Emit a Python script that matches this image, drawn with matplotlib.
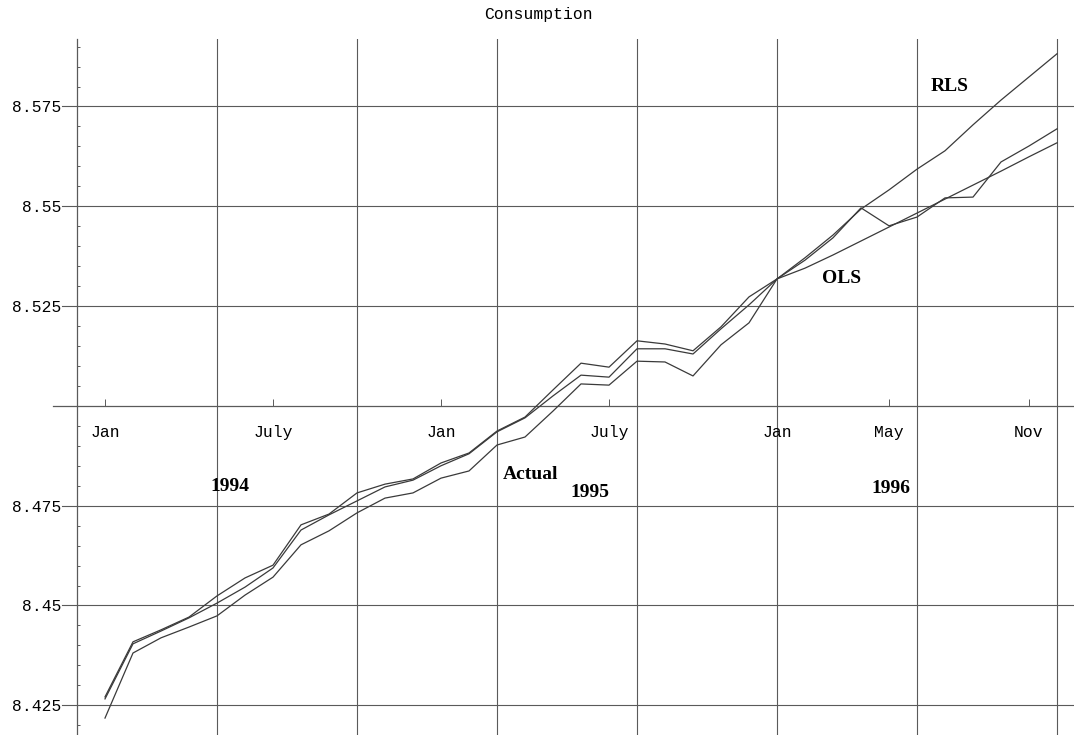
import numpy as np
import matplotlib
matplotlib.use("Agg")
import matplotlib.pyplot as plt
from matplotlib.ticker import FixedLocator, MultipleLocator

# Monthly observations, Jan 1994 (index 0) .. Nov 1996 (index 34)
months = np.arange(35)

actual = [8.4218, 8.4381, 8.4419, 8.4446, 8.4474, 8.4526, 8.4571, 8.4652, 8.4687,
          8.4732, 8.4769, 8.4782, 8.4819, 8.4837, 8.4902, 8.4922, 8.4987, 8.5055,
          8.5052, 8.5112, 8.5110, 8.5075, 8.5153, 8.5208, 8.5318,
          8.5365, 8.5421, 8.5496, 8.5451, 8.5473, 8.5521, 8.5523, 8.5611, 8.5651, 8.5694]

ols = [8.4266, 8.4404, 8.4436, 8.4469, 8.4506, 8.4546, 8.4594, 8.4689, 8.4727,
       8.4762, 8.4797, 8.4814, 8.4850, 8.4880, 8.4935, 8.4970, 8.5025, 8.5077,
       8.5072, 8.5143, 8.5143, 8.5130, 8.5193, 8.5253, 8.5318,
       8.5345, 8.5378, 8.5413, 8.5448, 8.5483, 8.5518, 8.5553, 8.5588, 8.5624, 8.5659]

rls = [8.4271, 8.4409, 8.4439, 8.4471, 8.4524, 8.4569, 8.4601, 8.4702, 8.4729,
       8.4782, 8.4804, 8.4817, 8.4857, 8.4882, 8.4937, 8.4972, 8.5040, 8.5107,
       8.5097, 8.5163, 8.5155, 8.5138, 8.5198, 8.5273, 8.5318,
       8.5371, 8.5428, 8.5493, 8.5541, 8.5593, 8.5639, 8.5704, 8.5766, 8.5824, 8.5882]

month_ticks = [0, 6, 12, 18, 24, 28, 33]
month_labels = ["Jan", "July", "Jan", "July", "Jan", "May", "Nov"]
grid_months = [4, 9, 14, 19, 24, 29, 34]

y_ticks = [8.425, 8.45, 8.475, 8.525, 8.55, 8.575]
y_labels = ["8.425", "8.45", "8.475", "8.525", "8.55", "8.575"]

MONO = "Liberation Mono"
SERIF = "Liberation Serif"
LINE = "#3a3a3a"
GRID = "#5a5a5a"

W, H = 1074, 735
fig = plt.figure(figsize=(W / 100, H / 100), dpi=100)
ax = fig.add_axes([77 / W, 0.0, 997 / W, (H - 39) / H])

ax.set_xlim(-1.0, 34.607)
ax.set_ylim(8.41756, 8.5919)

# frame: only the vertical axis line on the left
for side in ("top", "right"):
    ax.spines[side].set_visible(False)
ax.spines["left"].set_color(GRID)
ax.spines["left"].set_linewidth(0.9)
ax.spines["bottom"].set_position(("data", 8.5))
ax.spines["bottom"].set_visible(False)

# horizontal axis line at 8.5, running a little past the y axis
ax.axhline(8.5, xmin=-0.024, xmax=1.0, color=GRID, lw=0.9, clip_on=False, zorder=1)

# horizontal grid lines, starting just right of the tick labels
for v in y_ticks:
    ax.axhline(v, xmin=-0.015, xmax=1.0, color=GRID, lw=0.8, clip_on=False, zorder=1)

# vertical grid lines
for m in grid_months:
    ax.axvline(m, color=GRID, lw=0.8, zorder=1)

# y ticks
ax.yaxis.set_major_locator(FixedLocator(y_ticks))
ax.set_yticklabels(y_labels, family=MONO, fontsize=11.8)
ax.tick_params(axis="y", which="major", length=0, pad=11.5)
ax.yaxis.set_minor_locator(MultipleLocator(0.005))
ax.tick_params(axis="y", which="minor", direction="in", length=2.2, width=0.7, color=GRID)

# x ticks on the 8.5 line
ax.xaxis.set_major_locator(FixedLocator(month_ticks))
ax.set_xticklabels(month_labels, family=MONO, fontsize=11.8)
ax.tick_params(axis="x", which="major", direction="in", length=5, width=0.7,
               color=GRID, pad=13.5)

# series
for series in (actual, ols, rls):
    ax.plot(months, series, color=LINE, lw=0.9, zorder=3)

# annotations
serif = dict(family=SERIF, fontsize=14, fontweight="bold", ha="center", va="center")
ax.text(4.46, 8.4797, "1994", **serif)
ax.text(17.32, 8.4784, "1995", **serif)
ax.text(28.07, 8.4792, "1996", **serif)
ax.text(15.21, 8.4829, "Actual", **serif)
ax.text(26.29, 8.5318, "OLS", **serif)
ax.text(30.18, 8.5799, "RLS", **serif)

fig.text(538 / W, 1 - 15 / H, "Consumption", family=MONO, fontsize=11.8,
         ha="center", va="center")

fig.savefig("out.png", dpi=100, facecolor="white")
